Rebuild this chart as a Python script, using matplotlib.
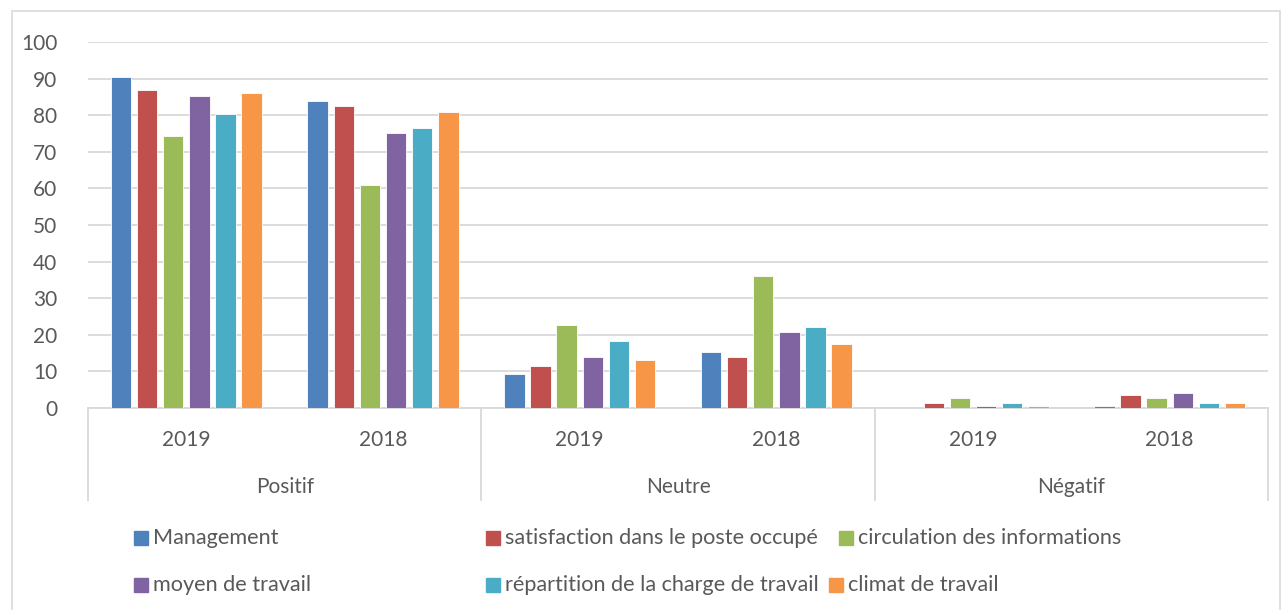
import matplotlib.pyplot as plt
from matplotlib.patches import Rectangle
import numpy as np

# data
groups = ['Positif', 'Neutre', 'Négatif']
years = ['2019', '2018']
series = ['Management', 'satisfaction dans le poste occupé', 'circulation des informations',
          'moyen de travail', 'répartition de la charge de travail', 'climat de travail']
colors = ['#4f81bd', '#c0504d', '#9bbb59', '#8064a2', '#4bacc6', '#f79646']

# one row per series, columns: Positif 2019, Positif 2018, Neutre 2019, Neutre 2018, Négatif 2019, Négatif 2018
management = [90.5, 83.9, 9.4, 15.3, 0.0, 0.6]
satisfaction = [86.8, 82.4, 11.6, 13.8, 1.4, 3.6]
circulation = [74.2, 61.0, 22.7, 36.1, 2.8, 2.8]
moyen = [85.3, 75.1, 13.8, 20.8, 0.6, 4.2]
repartition = [80.2, 76.5, 18.2, 22.1, 1.4, 1.4]
climat = [86.1, 80.9, 13.0, 17.5, 0.6, 1.4]
values = [management, satisfaction, circulation, moyen, repartition, climat]

plt.rcParams['font.family'] = ['Lato', 'DejaVu Sans']
txt = '#595959'
grid = '#d9d9d9'
fs = 15
fs_leg = 15.6

W, H = 1284, 610
fig = plt.figure(figsize=(W / 100, H / 100), dpi=100)
ax = fig.add_axes([88 / W, 1 - 408 / H, (1268 - 88) / W, 366 / H])

n_clusters = len(groups) * len(years)
centers = np.arange(n_clusters) + 0.5
step = 0.133
width = 0.104
for j, (name, vals) in enumerate(zip(series, values)):
    ax.bar(centers + (j - 2.5) * step, vals, width, color=colors[j],
           edgecolor='white', linewidth=0.6, zorder=3)

ax.set_xlim(0, n_clusters)
ax.set_ylim(0, 100)
ax.set_yticks(range(0, 101, 10))
ax.yaxis.grid(True, color=grid, linewidth=1.3, zorder=0)
ax.tick_params(axis='y', length=0, labelsize=fs, colors=txt, pad=22)
ax.set_xticks([])
for s in ['top', 'right', 'left']:
    ax.spines[s].set_visible(False)
ax.spines['bottom'].set_color(grid)
ax.spines['bottom'].set_linewidth(1.3)

# multi-level category axis
for i, c in enumerate(centers):
    ax.text(c, -0.087, years[i % 2], transform=ax.get_xaxis_transform(),
            ha='center', va='center', fontsize=fs, color=txt)
for g, name in enumerate(groups):
    ax.text(2 * g + 1, -0.216, name, transform=ax.get_xaxis_transform(),
            ha='center', va='center', fontsize=fs, color=txt)
for x in range(0, n_clusters + 1, 2):
    ax.plot([x, x], [0, -0.252], transform=ax.get_xaxis_transform(),
            color=grid, linewidth=1.3, clip_on=False)

# legend laid out like the reference (3 columns, 2 rows), pixel positions of the swatches
leg_x = [134, 486, 839, 134, 486, 829]
leg_y = [538, 538, 538, 585, 585, 585]
for j, name in enumerate(series):
    x, y = leg_x[j], leg_y[j]
    fig.patches.append(Rectangle((x / W, 1 - (y + 7) / H), 14 / W, 14 / H,
                                 transform=fig.transFigure, color=colors[j]))
    fig.text((x + 19) / W, 1 - y / H, name, ha='left', va='center',
             fontsize=fs_leg, color=txt)

# chart frame
fig.patches.append(Rectangle((12 / W, -0.1), (1280 - 12) / W, 1.1 - 11 / H,
                             transform=fig.transFigure, fill=False,
                             edgecolor=grid, linewidth=1.2))

fig.savefig('out.png', dpi=100)
